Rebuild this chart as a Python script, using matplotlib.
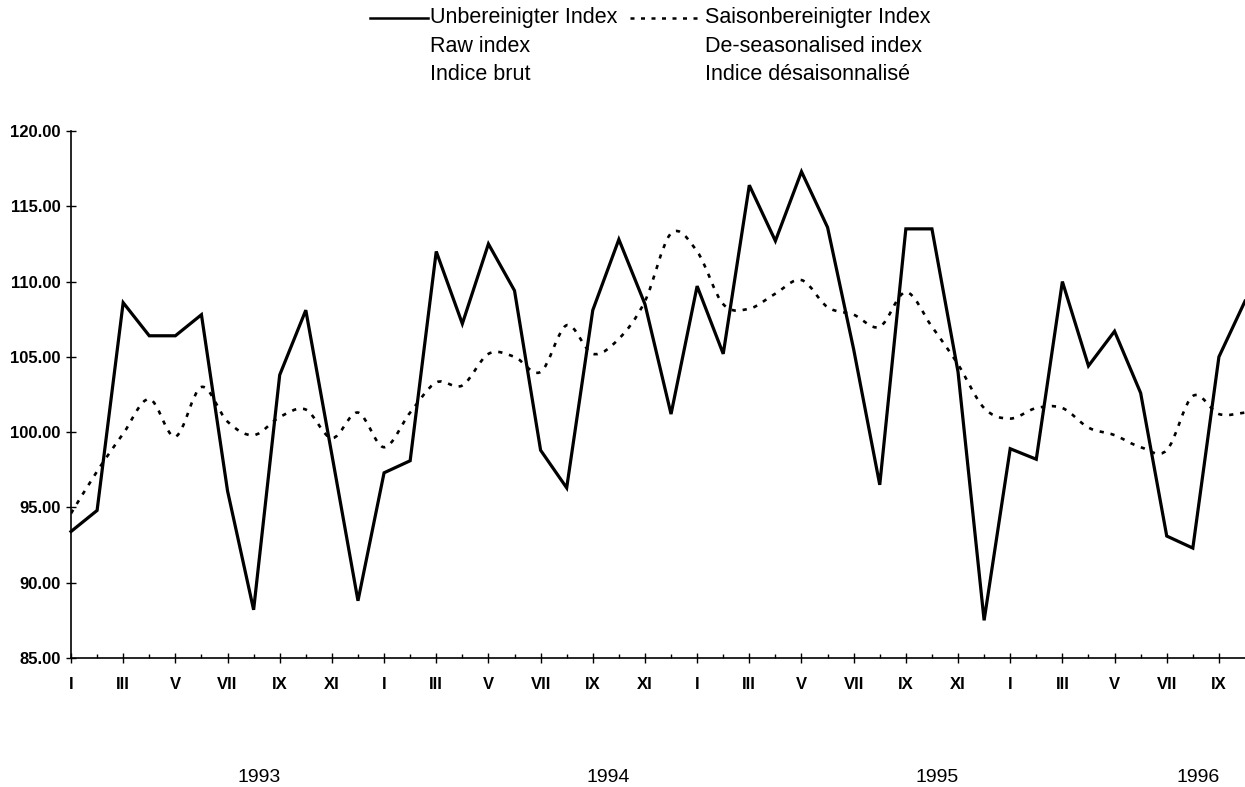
import matplotlib
matplotlib.use('Agg')
from matplotlib import pyplot as plt
from matplotlib.path import Path
from matplotlib.patches import PathPatch
from matplotlib.lines import Line2D

# Monatswerte Januar 1993 bis Oktober 1996
roh = [93.4, 94.8, 108.6, 106.4, 106.4, 107.8, 96.1, 88.2, 103.8, 108.1, 98.5, 88.8,
       97.3, 98.1, 112.0, 107.2, 112.5, 109.4, 98.8, 96.3, 108.1, 112.8, 108.5, 101.2,
       109.7, 105.2, 116.4, 112.7, 117.3, 113.6, 105.5, 96.5, 113.5, 113.5, 104.0, 87.5,
       98.9, 98.2, 110.0, 104.4, 106.7, 102.6, 93.1, 92.3, 105.0, 108.7]
saison = [94.6, 97.4, 99.9, 102.2, 99.7, 103.0, 100.7, 99.8, 101.0, 101.5, 99.6, 101.3,
          99.0, 101.3, 103.3, 103.1, 105.2, 105.0, 104.0, 107.1, 105.2, 106.2, 108.7, 113.2,
          112.0, 108.5, 108.2, 109.2, 110.1, 108.3, 107.8, 107.0, 109.3, 107.0, 104.5, 101.6,
          100.9, 101.6, 101.6, 100.3, 99.8, 99.0, 98.8, 102.4, 101.2, 101.3]
monate = ['I', 'III', 'V', 'VII', 'IX', 'XI']
jahre = ['1993', '1994', '1995', '1996']
jahr_pos = [7.2, 20.6, 33.2, 43.2]

plt.rcParams['font.family'] = ['Liberation Sans', 'DejaVu Sans']

fig = plt.figure(figsize=(12.45, 7.87), dpi=100)
ax = fig.add_axes([71 / 1245, 129 / 787, 1 - 71 / 1245, 527 / 787])

x = list(range(len(roh)))
ax.plot(x, roh, color='black', linewidth=2.3, solid_joinstyle='miter', clip_on=False, zorder=3)

# geglaettete Linie (Catmull-Rom als Bezier-Kurve)
pts = list(zip(x, saison))
verts = [pts[0]]
codes = [Path.MOVETO]
for i in range(len(pts) - 1):
    p0 = pts[i - 1] if i > 0 else pts[i]
    p1 = pts[i]
    p2 = pts[i + 1]
    p3 = pts[i + 2] if i + 2 < len(pts) else pts[i + 1]
    c1 = (p1[0] + (p2[0] - p0[0]) / 6, p1[1] + (p2[1] - p0[1]) / 6)
    c2 = (p2[0] - (p3[0] - p1[0]) / 6, p2[1] - (p3[1] - p1[1]) / 6)
    verts += [c1, c2, p2]
    codes += [Path.CURVE4] * 3
ax.add_patch(PathPatch(Path(verts, codes), facecolor='none', edgecolor='black',
                       linewidth=1.9, linestyle=(0, (1.6, 2.6)), zorder=2))

ax.set_xlim(0, 45)
ax.set_ylim(85, 120)
ax.set_yticks([85, 90, 95, 100, 105, 110, 115, 120])
ax.set_yticklabels([f'{v:.2f}' for v in [85, 90, 95, 100, 105, 110, 115, 120]],
                   fontweight='bold', fontsize=12)
ax.set_xticks(range(0, 45, 2))
ax.set_xticklabels([monate[i % 6] for i in range(23)], fontweight='bold', fontsize=12)
ax.set_xticks(range(1, 45, 2), minor=True)

ax.tick_params(axis='y', direction='inout', length=7, width=1, pad=4)
ax.tick_params(axis='x', which='major', direction='inout', length=7, width=1, pad=10)
ax.tick_params(axis='x', which='minor', direction='in', length=3, width=1)
for s in ['top', 'right']:
    ax.spines[s].set_visible(False)
ax.spines['left'].set_linewidth(1.2)
ax.spines['bottom'].set_linewidth(1.2)

for j, p in zip(jahre, jahr_pos):
    ax.text(p, -0.226, j, transform=ax.get_xaxis_transform(), ha='center', va='center',
            fontsize=14)

# Legende oben
def fx(px):
    return px / 1245

def fy(py):
    return 1 - py / 787

fig.add_artist(Line2D([fx(370), fx(428)], [fy(18), fy(18)], color='black', linewidth=1.8))
fig.add_artist(Line2D([fx(630), fx(700)], [fy(18), fy(18)], color='black', linewidth=1.8,
                      linestyle=(0, (1.6, 2.6))))
leg_links = ['Unbereinigter Index', 'Raw index', 'Indice brut']
leg_rechts = ['Saisonbereinigter Index', 'De-seasonalised index', 'Indice désaisonnalisé']
for k in range(3):
    fig.text(fx(430), fy(18 + 28 * k), leg_links[k], ha='left', va='center', fontsize=15.5)
    fig.text(fx(705), fy(18 + 28 * k), leg_rechts[k], ha='left', va='center', fontsize=15.5)

plt.savefig('out.png', dpi=100)
